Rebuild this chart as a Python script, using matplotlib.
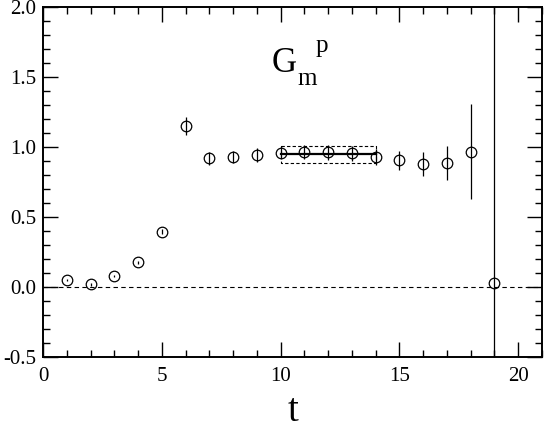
import matplotlib
matplotlib.use("Agg")
import matplotlib.pyplot as plt
from matplotlib.ticker import MultipleLocator
import numpy as np

t = [1, 2, 3, 4, 5, 6, 7, 8, 9, 10, 11, 12, 13, 14, 15, 16, 17, 18, 19]
G = [0.052, 0.021, 0.081, 0.179, 0.398, 1.152, 0.921, 0.929, 0.945, 0.960,
     0.964, 0.964, 0.955, 0.931, 0.905, 0.879, 0.886, 0.969, 0.031]
err = [0.008, 0.008, 0.010, 0.012, 0.015, 0.065, 0.048, 0.044, 0.050, 0.040,
       0.050, 0.052, 0.055, 0.056, 0.070, 0.083, 0.120, 0.340, 5.0]
fit_range = [10, 14]
fit_val = 0.948
fit_err = 0.062

plt.rcParams['font.family'] = ['Liberation Serif', 'DejaVu Serif']

fig = plt.figure(figsize=(5.45, 4.30), dpi=100)
ax = fig.add_axes([0.0789, 0.1688, 0.9156, 0.8149])

ax.axhline(0.0, color='black', lw=0.8, ls=(0, (4, 3)), zorder=1)

ax.errorbar(t, G, yerr=err, fmt='o', ms=7.6, mfc='none', mec='black',
            mew=0.9, ecolor='black', elinewidth=0.9, capsize=0, color='black', zorder=3)

# fit line and band
ax.plot(fit_range, [fit_val, fit_val], color='black', lw=1.6, zorder=2)
ax.plot([fit_range[0], fit_range[1], fit_range[1], fit_range[0], fit_range[0]],
        [fit_val + fit_err, fit_val + fit_err, fit_val - fit_err, fit_val - fit_err, fit_val + fit_err],
        color='black', lw=0.8, ls=(0, (3, 2)), zorder=2)

ax.set_xlim(0, 21)
ax.set_ylim(-0.5, 2.0)
ax.xaxis.set_major_locator(MultipleLocator(5))
ax.xaxis.set_minor_locator(MultipleLocator(1))
ax.yaxis.set_major_locator(MultipleLocator(0.5))
ax.yaxis.set_minor_locator(MultipleLocator(0.1))
ax.yaxis.set_major_formatter(matplotlib.ticker.FormatStrFormatter('%.1f'))
ax.tick_params(which='both', direction='in', top=True, right=True, width=1.0, labelsize=15)
ax.tick_params(which='major', length=10.5, pad=5)
ax.tick_params(axis='x', which='major', pad=7)
ax.tick_params(which='minor', length=5)
for s in ax.spines.values():
    s.set_linewidth(1.4)

ax.set_xlabel('t', fontsize=28, labelpad=5)

ax.text(9.62, 1.536, 'G', fontsize=25, va='baseline', ha='left')
ax.text(10.71, 1.443, 'm', fontsize=18, va='baseline', ha='left')
ax.text(11.47, 1.68, 'p', fontsize=18, va='baseline', ha='left')

fig.savefig('out.png', dpi=100)
